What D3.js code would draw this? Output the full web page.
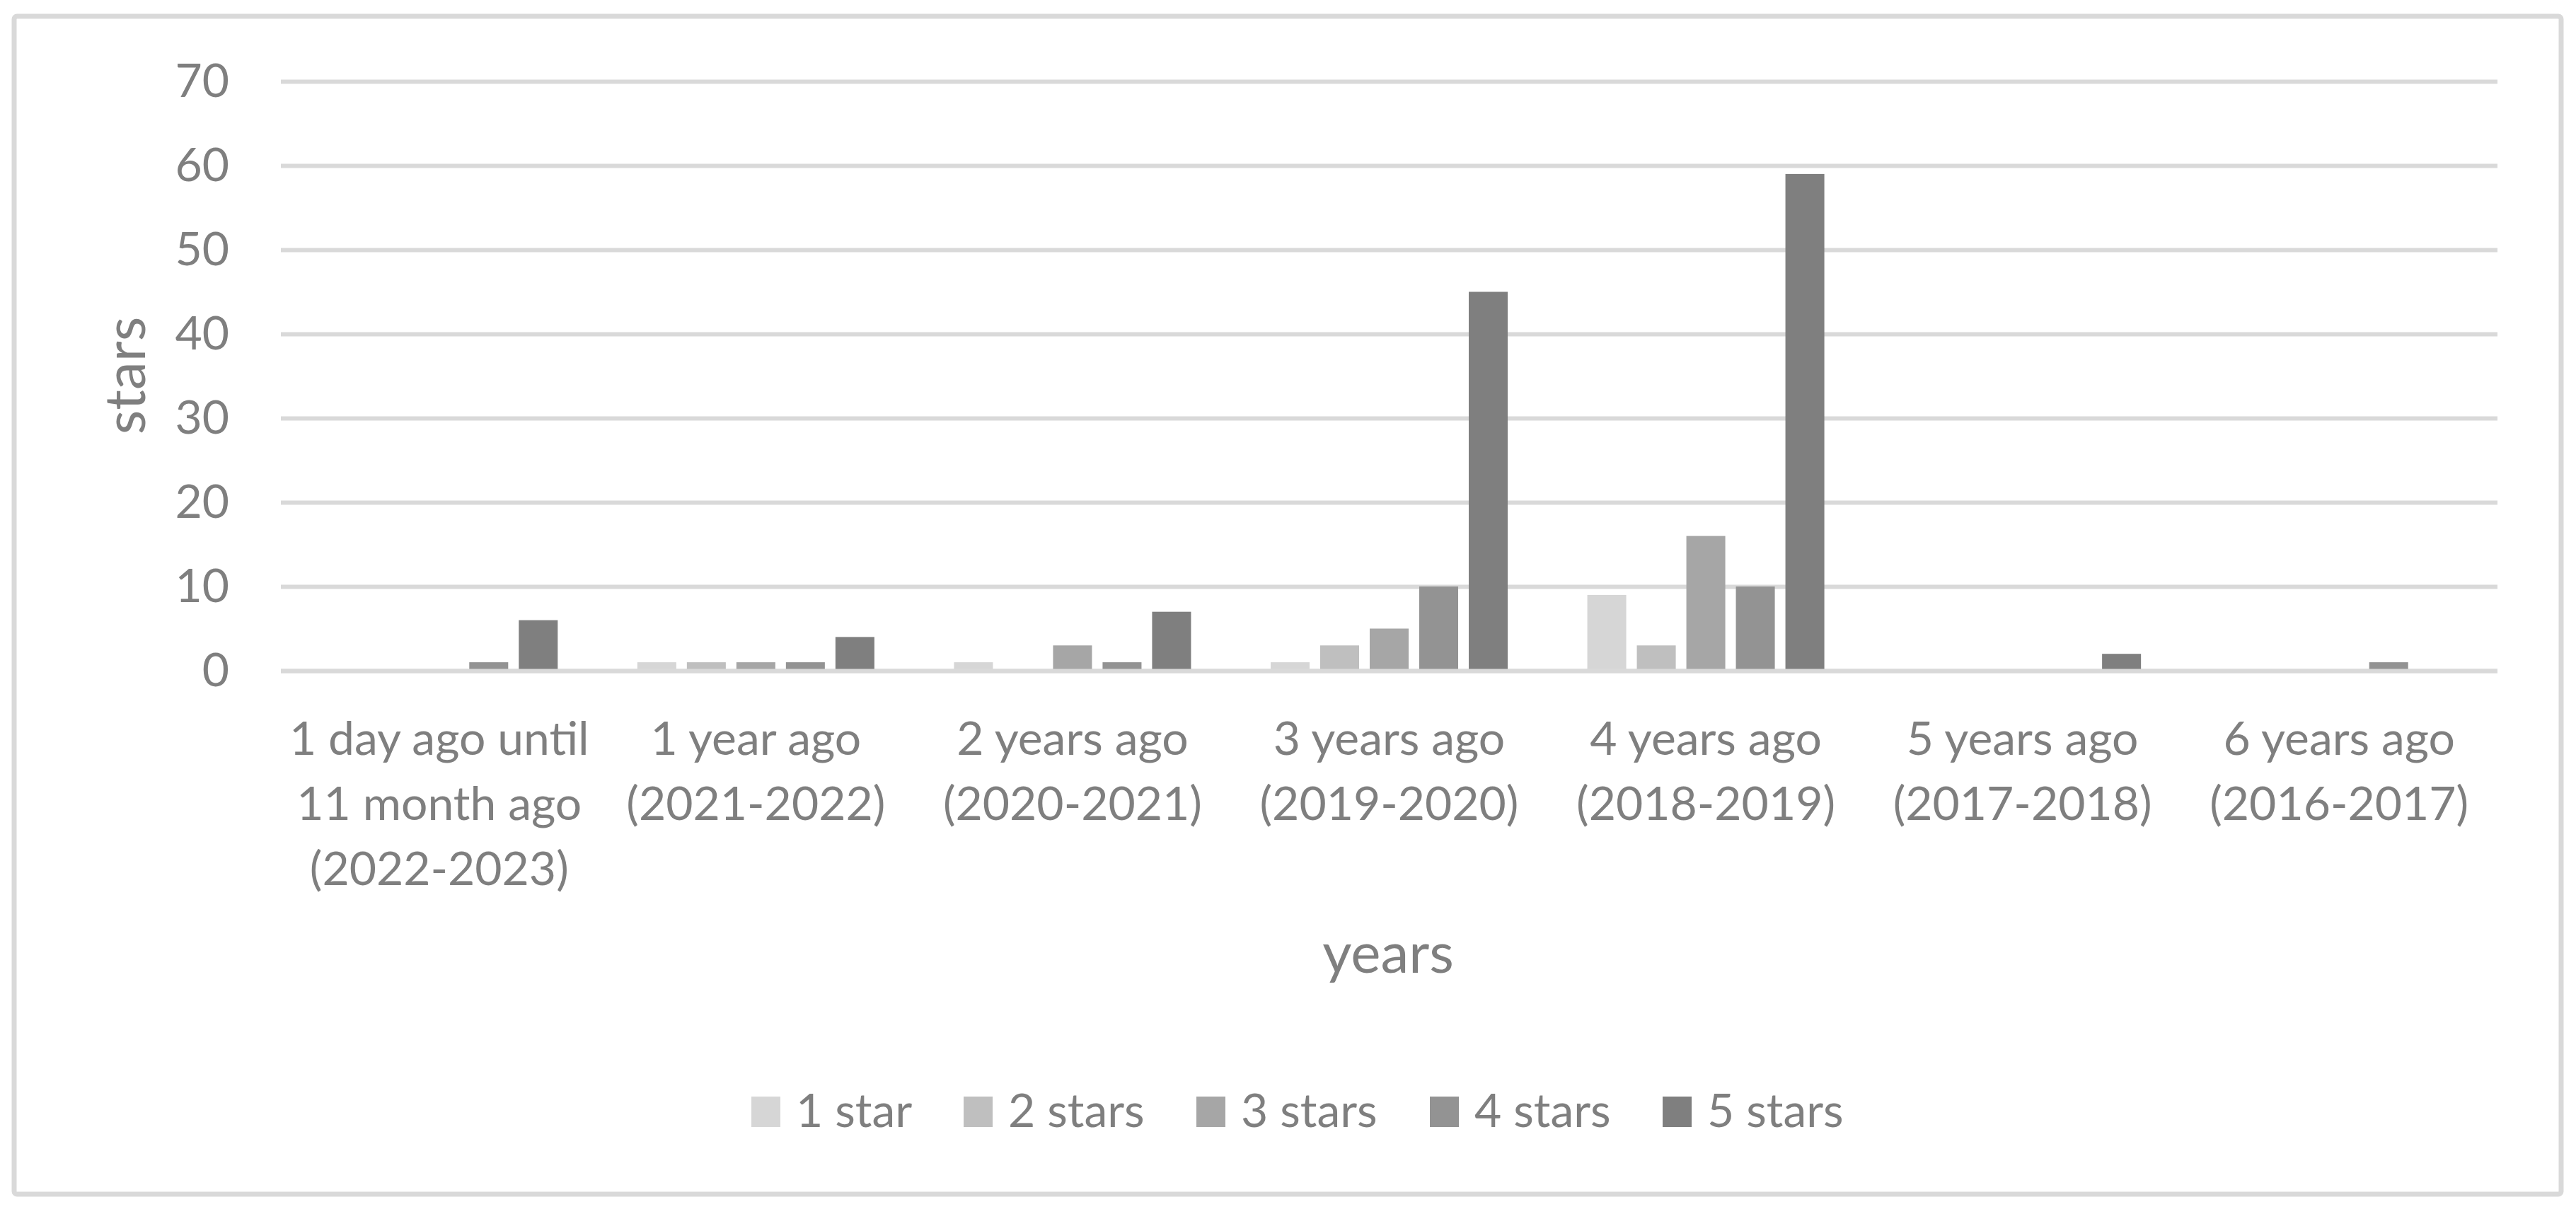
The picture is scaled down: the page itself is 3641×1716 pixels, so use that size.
<!DOCTYPE html>
<html>
<head>
<meta charset="utf-8">
<script src="https://cdn.jsdelivr.net/npm/d3@7"></script>
<style>
  html, body { margin: 0; padding: 0; background: #fff; }
  svg { display: block; font-family: Lato, "Liberation Sans", sans-serif; }
</style>
</head>
<body>
<svg id="chart" width="3641" height="1716"></svg>
<script>
// categories (one entry per line of the label)
var categories = [
    ["1 day ago until", "11 month ago", "(2022-2023)"],
    ["1 year ago", "(2021-2022)"],
    ["2 years ago", "(2020-2021)"],
    ["3 years ago", "(2019-2020)"],
    ["4 years ago", "(2018-2019)"],
    ["5 years ago", "(2017-2018)"],
    ["6 years ago", "(2016-2017)"]
];

var seriesNames = ["1 star", "2 stars", "3 stars", "4 stars", "5 stars"];

var star1 = [0, 1, 1, 1, 9, 0, 0];
var star2 = [0, 1, 0, 3, 3, 0, 0];
var star3 = [0, 1, 3, 5, 16, 0, 0];
var star4 = [1, 1, 1, 10, 10, 0, 1];
var star5 = [6, 4, 7, 45, 59, 2, 0];

var yTicks = [0, 10, 20, 30, 40, 50, 60, 70];

var colors = ["#d6d6d6", "#bfbfbf", "#a6a6a6", "#939393", "#7f7f7f"];

var seriesValues = [star1, star2, star3, star4, star5];

var svg = d3.select("#chart"),
    width = +svg.attr("width"),
    height = +svg.attr("height");

var plot = { left: 397, right: 3530, top: 115, bottom: 948 };
var textColor = "#7f7f7f",
    gridColor = "#d9d9d9",
    fontSize = 66;

// chart border
svg.append("rect")
    .attr("x", 20)
    .attr("y", 23)
    .attr("width", 3600)
    .attr("height", 1665)
    .attr("rx", 4)
    .style("fill", "#fff")
    .style("stroke", gridColor)
    .style("stroke-width", 7);

var x0 = d3.scaleBand()
    .domain(d3.range(categories.length))
    .range([plot.left, plot.right])
    .paddingInner(0.218)
    .paddingOuter(0.109);

var x1 = d3.scaleBand()
    .domain(d3.range(seriesNames.length))
    .range([0, x0.bandwidth()])
    .paddingInner(0.214)
    .paddingOuter(0.107);

var y = d3.scaleLinear()
    .domain([0, 70])
    .range([plot.bottom, plot.top]);

// y axis with gridlines
var yAxis = svg.append("g")
    .attr("transform", "translate(" + plot.left + ",0)")
    .call(d3.axisLeft(y)
        .tickValues(yTicks)
        .tickSizeInner(-(plot.right - plot.left))
        .tickSizeOuter(0)
        .tickPadding(73));

yAxis.select(".domain").remove();
yAxis.selectAll(".tick line")
    .style("stroke", gridColor)
    .style("stroke-width", 6);
yAxis.selectAll(".tick text")
    .style("fill", textColor)
    .style("font-size", fontSize + "px")
    .style("font-family", "Lato, 'Liberation Sans', sans-serif");

// bars
var groups = svg.append("g")
    .selectAll("g")
    .data(categories)
    .enter().append("g")
    .attr("transform", function(d, i) { return "translate(" + x0(i) + ",0)"; });

groups.selectAll("rect")
    .data(function(d, i) {
        return seriesValues.map(function(vals, s) { return { s: s, v: vals[i] }; });
    })
    .enter().append("rect")
    .filter(function(d) { return d.v > 0; })
    .attr("x", function(d) { return x1(d.s); })
    .attr("width", x1.bandwidth())
    .attr("y", function(d) { return y(d.v); })
    .attr("height", function(d) { return y(0) - y(d.v); })
    .style("fill", function(d) { return colors[d.s]; });

// redraw the zero line on top of the bars
svg.append("line")
    .attr("x1", plot.left)
    .attr("x2", plot.right)
    .attr("y1", y(0) + 0.5)
    .attr("y2", y(0) + 0.5)
    .style("stroke", gridColor)
    .style("stroke-width", 6);

// category labels
svg.append("g")
    .selectAll("text")
    .data(categories)
    .enter().append("text")
    .attr("text-anchor", "middle")
    .style("fill", textColor)
    .style("font-size", fontSize + "px")
    .each(function(lines, i) {
        var cx = x0(i) + x0.bandwidth() / 2;
        d3.select(this).selectAll("tspan")
            .data(lines)
            .enter().append("tspan")
            .attr("x", cx)
            .attr("y", function(d, k) { return 1067 + k * 92; })
            .text(function(d) { return d; });
    });

// axis titles
svg.append("text")
    .attr("x", 1962)
    .attr("y", 1375)
    .attr("text-anchor", "middle")
    .style("fill", textColor)
    .style("font-size", "80px")
    .text("years");

svg.append("text")
    .attr("transform", "translate(205,531) rotate(-90)")
    .attr("text-anchor", "middle")
    .style("fill", textColor)
    .style("font-size", "80px")
    .text("stars");

// legend
var legendX = [1062, 1362, 1691, 2021, 2350];

var legend = svg.append("g")
    .selectAll("g")
    .data(seriesNames)
    .enter().append("g")
    .attr("transform", function(d, i) { return "translate(" + legendX[i] + ",1550)"; });

legend.append("rect")
    .attr("width", 41)
    .attr("height", 43)
    .style("fill", function(d, i) { return colors[i]; });

legend.append("text")
    .attr("x", 63)
    .attr("y", 43)
    .style("fill", textColor)
    .style("font-size", fontSize + "px")
    .text(function(d) { return d; });
</script>
</body>
</html>
